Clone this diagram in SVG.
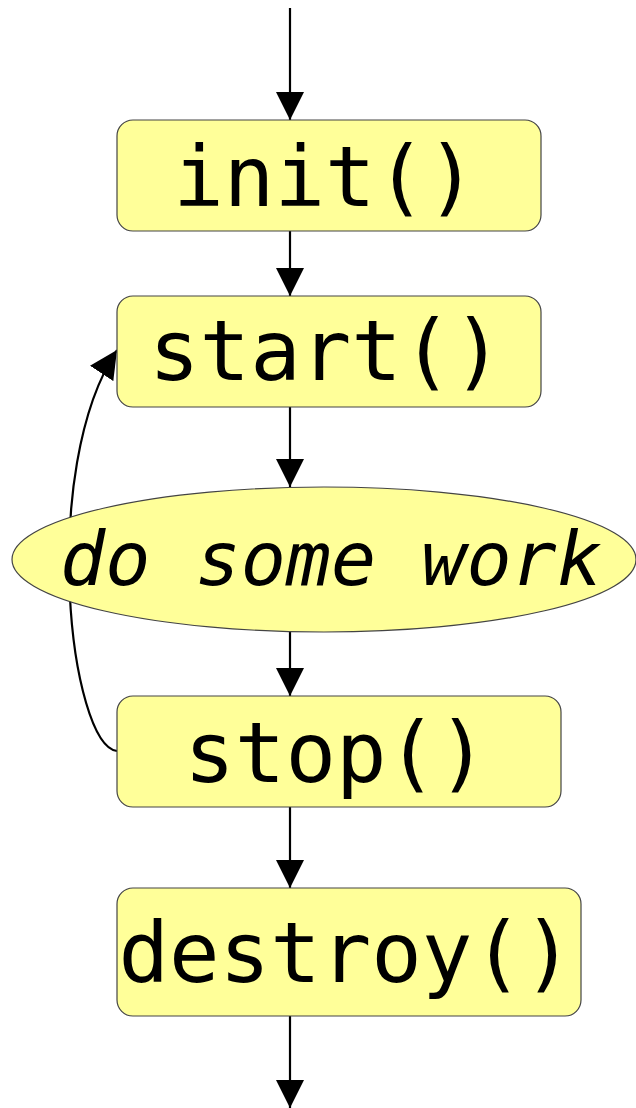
<svg xmlns="http://www.w3.org/2000/svg" width="636" height="1108" viewBox="0 0 636 1108">
  <style>
    .node { fill: #ffff99; stroke: #444444; stroke-width: 1.2; }
    .label { font-family: "DejaVu Sans Mono", "Liberation Mono", monospace; font-size: 84px; fill: #000000; text-anchor: middle; }
    .italic { font-style: italic; font-size: 75px; }
    .edge { fill: none; stroke: #000000; stroke-width: 2.2; }
  </style>
  <defs>
    <marker id="arrow" markerUnits="userSpaceOnUse" markerWidth="28" markerHeight="28" viewBox="0 0 28 28" refX="28" refY="14" orient="auto">
      <path d="M0,0 L28,14 L0,28 Z" fill="#000000"/>
    </marker>
  </defs>

  <rect width="636" height="1108" fill="#ffffff"/>

  <g id="connectors">
    <line class="edge" x1="290" y1="8" x2="290" y2="120" marker-end="url(#arrow)"/>
    <line class="edge" x1="290" y1="231" x2="290" y2="296" marker-end="url(#arrow)"/>
    <line class="edge" x1="290" y1="407" x2="290" y2="487" marker-end="url(#arrow)"/>
    <line class="edge" x1="290" y1="632" x2="290" y2="696" marker-end="url(#arrow)"/>
    <line class="edge" x1="290" y1="807" x2="290" y2="888" marker-end="url(#arrow)"/>
    <line class="edge" x1="290" y1="1016" x2="290" y2="1108" marker-end="url(#arrow)"/>
    <!-- loop back from stop() to start() -->
    <path class="edge" d="M117,751 C 70,745 38,470 117,350" marker-end="url(#arrow)"/>
  </g>

  <g id="init">
    <rect class="node" x="117" y="120" width="424" height="111" rx="16"/>
    <text class="label" x="325" y="206">init()</text>
  </g>
  <g id="start">
    <rect class="node" x="117" y="296" width="424" height="111" rx="16"/>
    <text class="label" x="326" y="380">start()</text>
  </g>
  <g id="work">
    <ellipse class="node" cx="324" cy="559.5" rx="312" ry="72.5"/>
    <text class="label italic" x="331" y="585">do some work</text>
  </g>
  <g id="stop">
    <rect class="node" x="117" y="696" width="444" height="111" rx="16"/>
    <text class="label" x="336" y="782">stop()</text>
  </g>
  <g id="destroy">
    <rect class="node" x="117" y="888" width="464" height="128" rx="16"/>
    <text class="label" x="346" y="982">destroy()</text>
  </g>
</svg>
